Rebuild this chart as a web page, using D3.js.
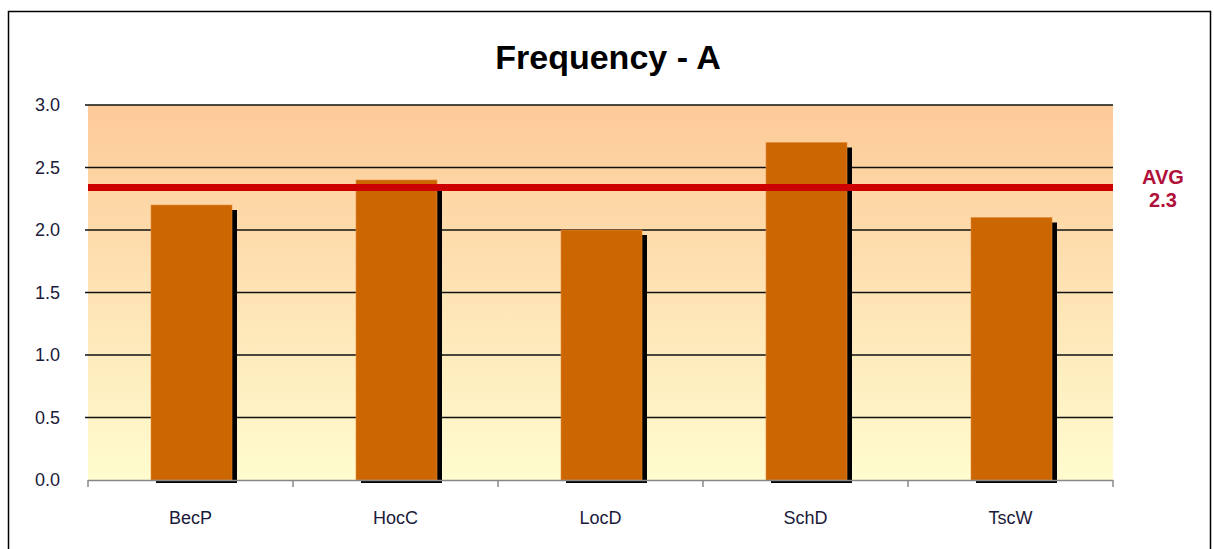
<!DOCTYPE html>
<html>
<head>
<meta charset="utf-8">
<script src="https://cdn.jsdelivr.net/npm/d3@7"></script>
<style>
  body { margin: 0; background: #fff; }
  svg { display: block; font-family: "Liberation Sans", Arial, sans-serif; }
</style>
</head>
<body>
<div id="chart"></div>
<script>
// data
var categories = ["BecP", "HocC", "LocD", "SchD", "TscW"];
var values = [2.2, 2.4, 2.0, 2.7, 2.1];
var avgValue = 2.34;
var avgLabel = ["AVG", "2.3"];
var yTicks = [0, 0.5, 1.0, 1.5, 2.0, 2.5, 3.0];

var width = 1214, height = 549;
var margin = {top: 105, right: 101, bottom: 69, left: 88};
var plotW = width - margin.left - margin.right,
    plotH = height - margin.top - margin.bottom;

var svg = d3.select("#chart").append("svg")
    .attr("width", width)
    .attr("height", height);

// outer frame
svg.append("rect")
    .attr("x", 8.5).attr("y", 11.5)
    .attr("width", width - 12).attr("height", height)
    .attr("fill", "#fff")
    .attr("stroke", "#000")
    .attr("stroke-width", 1.5);

var defs = svg.append("defs");
var grad = defs.append("linearGradient")
    .attr("id", "bg").attr("x1", 0).attr("y1", 0).attr("x2", 0).attr("y2", 1);
grad.append("stop").attr("offset", "0%").attr("stop-color", "#fdca98");
grad.append("stop").attr("offset", "100%").attr("stop-color", "#fffccf");

svg.append("text")
    .attr("x", 608).attr("y", 69)
    .attr("text-anchor", "middle")
    .attr("font-size", 34)
    .attr("font-weight", "bold")
    .attr("fill", "#000")
    .text("Frequency - A");

var g = svg.append("g")
    .attr("transform", "translate(" + margin.left + "," + margin.top + ")");

var x = d3.scaleBand().domain(categories).range([0, plotW]).padding(0);
var y = d3.scaleLinear().domain([0, 3]).range([plotH, 0]);

g.append("rect")
    .attr("width", plotW).attr("height", plotH)
    .attr("fill", "url(#bg)");

// gridlines
g.selectAll(".grid")
    .data(yTicks.filter(function(d) { return d > 0; }))
  .enter().append("line")
    .attr("class", "grid")
    .attr("x1", -3).attr("x2", plotW)
    .attr("y1", function(d) { return y(d); })
    .attr("y2", function(d) { return y(d); })
    .attr("stroke", "#111")
    .attr("stroke-width", 1.6);

// y labels
g.selectAll(".ylab")
    .data(yTicks)
  .enter().append("text")
    .attr("class", "ylab")
    .attr("x", -28).attr("y", function(d) { return y(d); })
    .attr("dy", "0.35em")
    .attr("text-anchor", "end")
    .attr("font-size", 18)
    .attr("fill", "#1a1a3a")
    .text(function(d) { return d3.format(".1f")(d); });

var bw = 81;
var bars = g.selectAll(".bar")
    .data(values)
  .enter().append("g")
    .attr("transform", function(d, i) {
      return "translate(" + (x(categories[i]) + x.bandwidth() / 2 - bw / 2 + 1) + ",0)";
    });

// shadow
bars.append("rect")
    .attr("x", 5).attr("y", function(d) { return y(d) + 5; })
    .attr("width", bw).attr("height", function(d) { return plotH - y(d) - 5 + 3; })
    .attr("fill", "#000");

bars.append("rect")
    .attr("x", 0).attr("y", function(d) { return y(d); })
    .attr("width", bw).attr("height", function(d) { return plotH - y(d); })
    .attr("fill", "#cc6600")
    .attr("stroke", "#e58a3a")
    .attr("stroke-width", 0.6);

// average line
g.append("line")
    .attr("x1", 0).attr("x2", plotW)
    .attr("y1", y(avgValue)).attr("y2", y(avgValue))
    .attr("stroke", "#cc0000")
    .attr("stroke-width", 7);

// x axis line + ticks
g.append("line")
    .attr("x1", 0).attr("x2", plotW)
    .attr("y1", plotH + 0.5).attr("y2", plotH + 0.5)
    .attr("stroke", "#888").attr("stroke-width", 1.5);

var tickPos = categories.map(function(c) { return x(c); }).concat([plotW]);
g.selectAll(".xtick")
    .data(tickPos)
  .enter().append("line")
    .attr("x1", function(d) { return d; }).attr("x2", function(d) { return d; })
    .attr("y1", plotH).attr("y2", plotH + 7)
    .attr("stroke", "#888").attr("stroke-width", 1.5);

g.selectAll(".xlab")
    .data(categories)
  .enter().append("text")
    .attr("x", function(d) { return x(d) + x.bandwidth() / 2; })
    .attr("y", plotH + 44)
    .attr("text-anchor", "middle")
    .attr("font-size", 18)
    .attr("fill", "#1a1a3a")
    .text(function(d) { return d; });

// avg label
var lab = svg.append("text")
    .attr("x", 1163).attr("y", 184)
    .attr("text-anchor", "middle")
    .attr("font-size", 20)
    .attr("font-weight", "bold")
    .attr("fill", "#b0103a");
lab.selectAll("tspan")
    .data(avgLabel)
  .enter().append("tspan")
    .attr("x", 1163)
    .attr("dy", function(d, i) { return i ? 23 : 0; })
    .text(function(d) { return d; });
</script>
</body>
</html>
